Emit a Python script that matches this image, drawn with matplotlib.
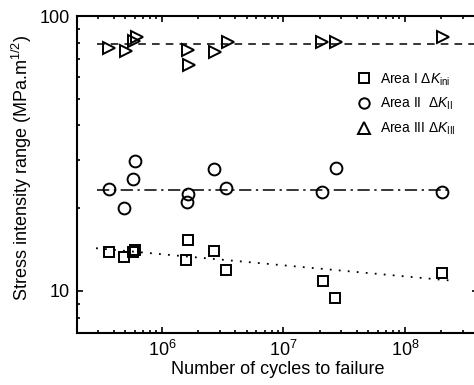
import matplotlib
matplotlib.use("Agg")
import matplotlib.pyplot as plt
from matplotlib.ticker import LogLocator, NullFormatter

plt.rcParams['font.family'] = ['Liberation Sans', 'DejaVu Sans']
plt.rcParams['mathtext.fontset'] = 'custom'
plt.rcParams['mathtext.rm'] = 'Liberation Sans'
plt.rcParams['mathtext.it'] = 'Liberation Sans:italic'
plt.rcParams['mathtext.default'] = 'regular'

# Area III (triangles)
n3 = [3.66e5, 5.02e5, 5.89e5, 6.18e5, 1.65e6, 1.68e6, 2.73e6, 3.47e6, 2.09e7, 2.70e7, 2.07e8]
k3 = [76.3, 74.8, 81.3, 84.1, 75.2, 66.4, 73.8, 80.6, 80.6, 80.6, 84.1]
# Area II (circles)
n2 = [3.66e5, 4.9e5, 5.81e5, 6.03e5, 1.6e6, 1.65e6, 2.7e6, 3.4e6, 2.09e7, 2.69e7, 2.01e8]
k2 = [23.5, 20.1, 25.5, 29.6, 21.1, 22.6, 27.8, 23.6, 22.9, 27.9, 22.9]
# Area I (squares)
n1 = [3.66e5, 4.9e5, 5.75e5, 6.0e5, 1.65e6, 1.59e6, 2.66e6, 3.38e6, 2.1e7, 2.67e7, 2.01e8]
k1 = [13.9, 13.3, 13.9, 14.1, 15.3, 13.0, 14.0, 11.9, 10.9, 9.46, 11.6]

# fit lines
fit3_n = [2.9e5, 6e8]
fit3_k = [78.9, 78.9]
fit2_n = [2.9e5, 2.42e8]
fit2_k = [23.2, 23.2]
fit1_n = [2.87e5, 2.42e8]
fit1_k = [14.3, 10.9]

fig = plt.figure(figsize=(4.74, 3.85), dpi=100)
ax = fig.add_axes([77/474, 52/385, (478-77)/474, (333-16)/385])

ax.set_xscale('log')
ax.set_yscale('log')

mk = dict(linestyle='none', markerfacecolor='none', markeredgecolor='black', markeredgewidth=1.4)
ax.plot(n1, k1, marker='s', markersize=7.5, **mk)
ax.plot(n2, k2, marker='o', markersize=8.5, **mk)
ax.plot(n3, k3, marker='>', markersize=9, **mk)

ax.plot(fit3_n, fit3_k, color='black', linestyle=(0, (5, 4)), linewidth=1.1)
ax.plot(fit2_n, fit2_k, color='black', linestyle=(0, (8, 3, 1.5, 3)), linewidth=1.1)
ax.plot(fit1_n, fit1_k, color='black', linestyle=(0, (1, 4)), linewidth=1.3)

ax.set_xlim(2.0e5, 4.0e8)
ax.set_ylim(7.03, 100)

ax.set_yticks([10, 100])
ax.set_yticklabels(['10', '100'])
ax.yaxis.set_minor_locator(LogLocator(base=10, subs=range(2, 10)))
ax.yaxis.set_minor_formatter(NullFormatter())
ax.set_xticks([1e6, 1e7, 1e8])
ax.set_xticklabels([r'$10^6$', r'$10^7$', r'$10^8$'])
ax.xaxis.set_minor_locator(LogLocator(base=10, subs=range(2, 10)))
ax.xaxis.set_minor_formatter(NullFormatter())

ax.tick_params(which='both', direction='in', top=True, right=True, width=1.2, labelsize=13)
ax.tick_params(which='major', length=4, pad=5)
ax.tick_params(which='minor', length=2.5)
for s in ax.spines.values():
    s.set_linewidth(1.5)

ax.set_xlabel('Number of cycles to failure', fontsize=13, labelpad=1)
ax.set_ylabel(r'Stress intensity range (MPa.m$^{1/2}$)', fontsize=13, labelpad=4)
ax.yaxis.label.set_y(0.52)

# legend
h1, = ax.plot([], [], marker='s', markersize=7, **mk)
h2, = ax.plot([], [], marker='o', markersize=7.5, **mk)
h3, = ax.plot([], [], marker='^', markersize=8.5, **mk)
leg = ax.legend([h1, h2, h3],
                [r'Area I $\Delta \mathit{K}_{ini}$', r'Area II  $\Delta \mathit{K}_{II}$', r'Area III $\Delta \mathit{K}_{III}$'],
                loc='upper left', bbox_to_anchor=(0.668, 0.865), frameon=False,
                fontsize=10, handlelength=1.0, handletextpad=0.6, labelspacing=0.6)

fig.savefig('out.png', dpi=100)
